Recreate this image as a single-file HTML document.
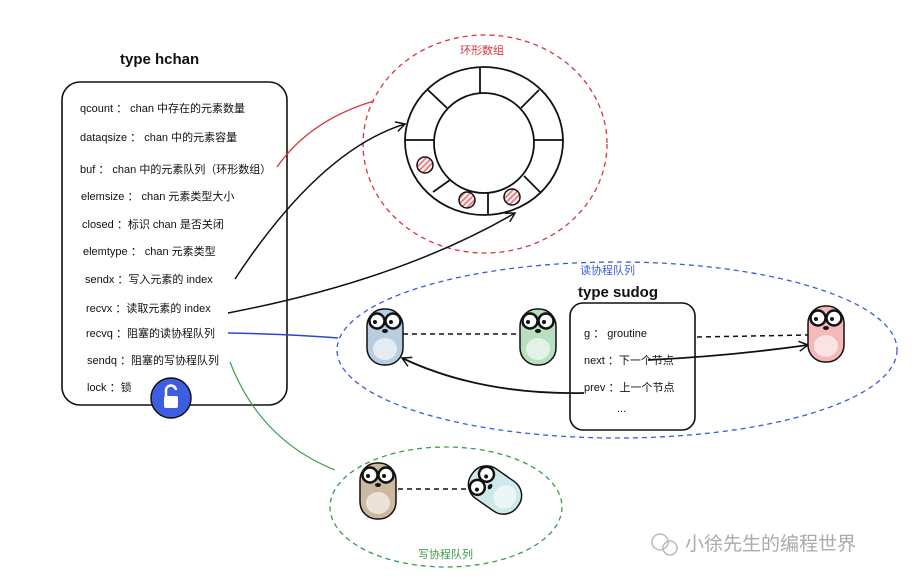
<!DOCTYPE html>
<html><head><meta charset="utf-8"><style>
html,body{margin:0;padding:0;background:#fff}
svg{display:block}
.t{font-family:"Liberation Sans","Noto Sans CJK SC",sans-serif;font-size:11px;fill:#111}
.h{font-family:"Liberation Sans","Noto Sans CJK SC",sans-serif;font-size:15px;font-weight:bold;fill:#111}
</style></head><body>
<svg width="915" height="582" viewBox="0 0 915 582" xmlns="http://www.w3.org/2000/svg">
<defs>
<pattern id="hatch" width="4" height="4" patternUnits="userSpaceOnUse" patternTransform="rotate(45)">
<rect width="4" height="4" fill="#fff"/><rect width="2" height="4" fill="#f08080"/></pattern>
<marker id="ar" markerWidth="12" markerHeight="12" refX="10" refY="6" orient="auto" markerUnits="userSpaceOnUse">
<path d="M1,1 L10,6 L1,11" fill="none" stroke="#111" stroke-width="1.5"/></marker>
<g id="gopher">
<rect x="0" y="6" width="36" height="56" rx="17" stroke="#111" stroke-width="1.5"/>
<ellipse cx="18" cy="46" rx="12" ry="11" fill="#fff" opacity="0.6"/>
<circle cx="10" cy="18" r="7.5" fill="#fff" stroke="#111" stroke-width="2.5"/>
<circle cx="26" cy="18" r="7.5" fill="#fff" stroke="#111" stroke-width="2.5"/>
<circle cx="8" cy="19" r="2" fill="#111"/><circle cx="24" cy="19" r="2" fill="#111"/>
<ellipse cx="18" cy="28" rx="3" ry="2" fill="#111"/>
</g>
</defs>

<!-- hchan -->
<text x="120" y="64" class="h">type hchan</text>
<rect x="62" y="82" width="225" height="323" rx="18" fill="none" stroke="#111" stroke-width="1.6"/>
<text class="t" x="80" y="112">qcount ： chan 中存在的元素数量</text>
<text class="t" x="80" y="141">dataqsize ： chan 中的元素容量</text>
<text class="t" x="80" y="173">buf ： chan 中的元素队列（环形数组）</text>
<text class="t" x="81" y="200">elemsize ： chan 元素类型大小</text>
<text class="t" x="82" y="228">closed ：标识 chan 是否关闭</text>
<text class="t" x="83" y="255">elemtype ： chan 元素类型</text>
<text class="t" x="85" y="283">sendx ：写入元素的 index</text>
<text class="t" x="86" y="312">recvx ：读取元素的 index</text>
<text class="t" x="86" y="337">recvq ：阻塞的读协程队列</text>
<text class="t" x="87" y="364">sendq ：阻塞的写协程队列</text>
<text class="t" x="87" y="391">lock ：锁</text>
<circle cx="171" cy="398" r="20" fill="#3d5ee0" stroke="#111" stroke-width="1.5"/>
<rect x="164" y="396" width="14" height="12" rx="2" fill="#fff"/>
<path d="M166,396 v-5 a5,5 0 0 1 10,-1" fill="none" stroke="#fff" stroke-width="2.5"/>

<!-- ring -->
<ellipse cx="485" cy="144" rx="122" ry="109" fill="none" stroke="#d9343d" stroke-width="1.3" stroke-dasharray="5,4"/>
<text x="460" y="54" font-family="Liberation Sans,Noto Sans CJK SC,sans-serif" font-size="11" fill="#d9343d">环形数组</text>
<ellipse cx="484" cy="141" rx="79" ry="74" fill="none" stroke="#111" stroke-width="1.8"/>
<circle cx="484" cy="143" r="50" fill="none" stroke="#111" stroke-width="1.8"/>
<g stroke="#111" stroke-width="1.8">
<line x1="480" y1="68" x2="480" y2="93"/>
<line x1="428" y1="90" x2="447" y2="108"/>
<line x1="539" y1="90" x2="521" y2="108"/>
<line x1="405" y1="140" x2="434" y2="140"/>
<line x1="534" y1="140" x2="563" y2="140"/>
<line x1="433" y1="192" x2="450" y2="180"/>
<line x1="488" y1="193" x2="488" y2="214"/>
<line x1="524" y1="176" x2="540" y2="192"/>
</g>
<circle cx="425" cy="165" r="8" fill="url(#hatch)" stroke="#111" stroke-width="1.5"/>
<circle cx="467" cy="200" r="8" fill="url(#hatch)" stroke="#111" stroke-width="1.5"/>
<circle cx="512" cy="197" r="8" fill="url(#hatch)" stroke="#111" stroke-width="1.5"/>

<!-- connectors -->
<path d="M277,167 Q310,120 374,101" fill="none" stroke="#d9343d" stroke-width="1.3"/>
<path d="M235,279 Q320,150 405,124" fill="none" stroke="#111" stroke-width="1.5" marker-end="url(#ar)"/>
<path d="M228,313 Q400,280 515,213" fill="none" stroke="#111" stroke-width="1.5" marker-end="url(#ar)"/>
<path d="M228,333 Q290,334 338,338" fill="none" stroke="#2c47d6" stroke-width="1.5"/>
<path d="M230,362 Q260,440 335,470" fill="none" stroke="#3a9c4a" stroke-width="1.2"/>

<!-- read queue -->
<ellipse cx="617" cy="350" rx="280" ry="88" fill="none" stroke="#3a5be0" stroke-width="1.3" stroke-dasharray="5,4"/>
<text x="580" y="274" font-family="Liberation Sans,Noto Sans CJK SC,sans-serif" font-size="11" fill="#3a5be0">读协程队列</text>
<text x="578" y="297" class="h">type sudog</text>
<rect x="570" y="303" width="125" height="127" rx="13" fill="none" stroke="#111" stroke-width="1.6"/>
<text class="t" x="584" y="337">g ： groutine</text>
<text class="t" x="584" y="364">next ：下一个节点</text>
<text class="t" x="584" y="391">prev ：上一个节点</text>
<text class="t" x="617" y="412">...</text>
<line x1="403" y1="334" x2="522" y2="334" stroke="#111" stroke-width="1.5" stroke-dasharray="5,4"/>
<line x1="697" y1="337" x2="808" y2="335" stroke="#111" stroke-width="1.5" stroke-dasharray="5,4"/>
<path d="M648,360 Q730,356 808,345" fill="none" stroke="#111" stroke-width="1.8" marker-end="url(#ar)"/>
<path d="M584,393 Q480,395 402,358" fill="none" stroke="#111" stroke-width="1.8" marker-end="url(#ar)"/>
<use href="#gopher" x="367" y="303" fill="#b9cde0"/>
<use href="#gopher" x="520" y="303" fill="#b8dfc0"/>
<use href="#gopher" x="808" y="300" fill="#f6b9b9"/>

<!-- write queue -->
<ellipse cx="446" cy="507" rx="116" ry="60" fill="none" stroke="#3a9c4a" stroke-width="1.3" stroke-dasharray="5,4"/>
<text x="418" y="558" font-family="Liberation Sans,Noto Sans CJK SC,sans-serif" font-size="11" fill="#3a9c4a">写协程队列</text>
<line x1="398" y1="489" x2="480" y2="489" stroke="#111" stroke-width="1.5" stroke-dasharray="5,4"/>
<use href="#gopher" x="360" y="457" fill="#cdb9a0"/>
<g transform="translate(495,490) rotate(-55)">
<use href="#gopher" x="-18" y="-34" fill="#cfe9ea"/>
</g>

<!-- watermark -->
<circle cx="660" cy="542" r="8" fill="none" stroke="#bbb" stroke-width="1.5"/>
<circle cx="670" cy="548" r="7" fill="none" stroke="#bbb" stroke-width="1.5"/>
<text x="685" y="550" font-family="Liberation Sans,Noto Sans CJK SC,sans-serif" font-size="19" fill="#aaa">小徐先生的编程世界</text>
</svg>
</body></html>
